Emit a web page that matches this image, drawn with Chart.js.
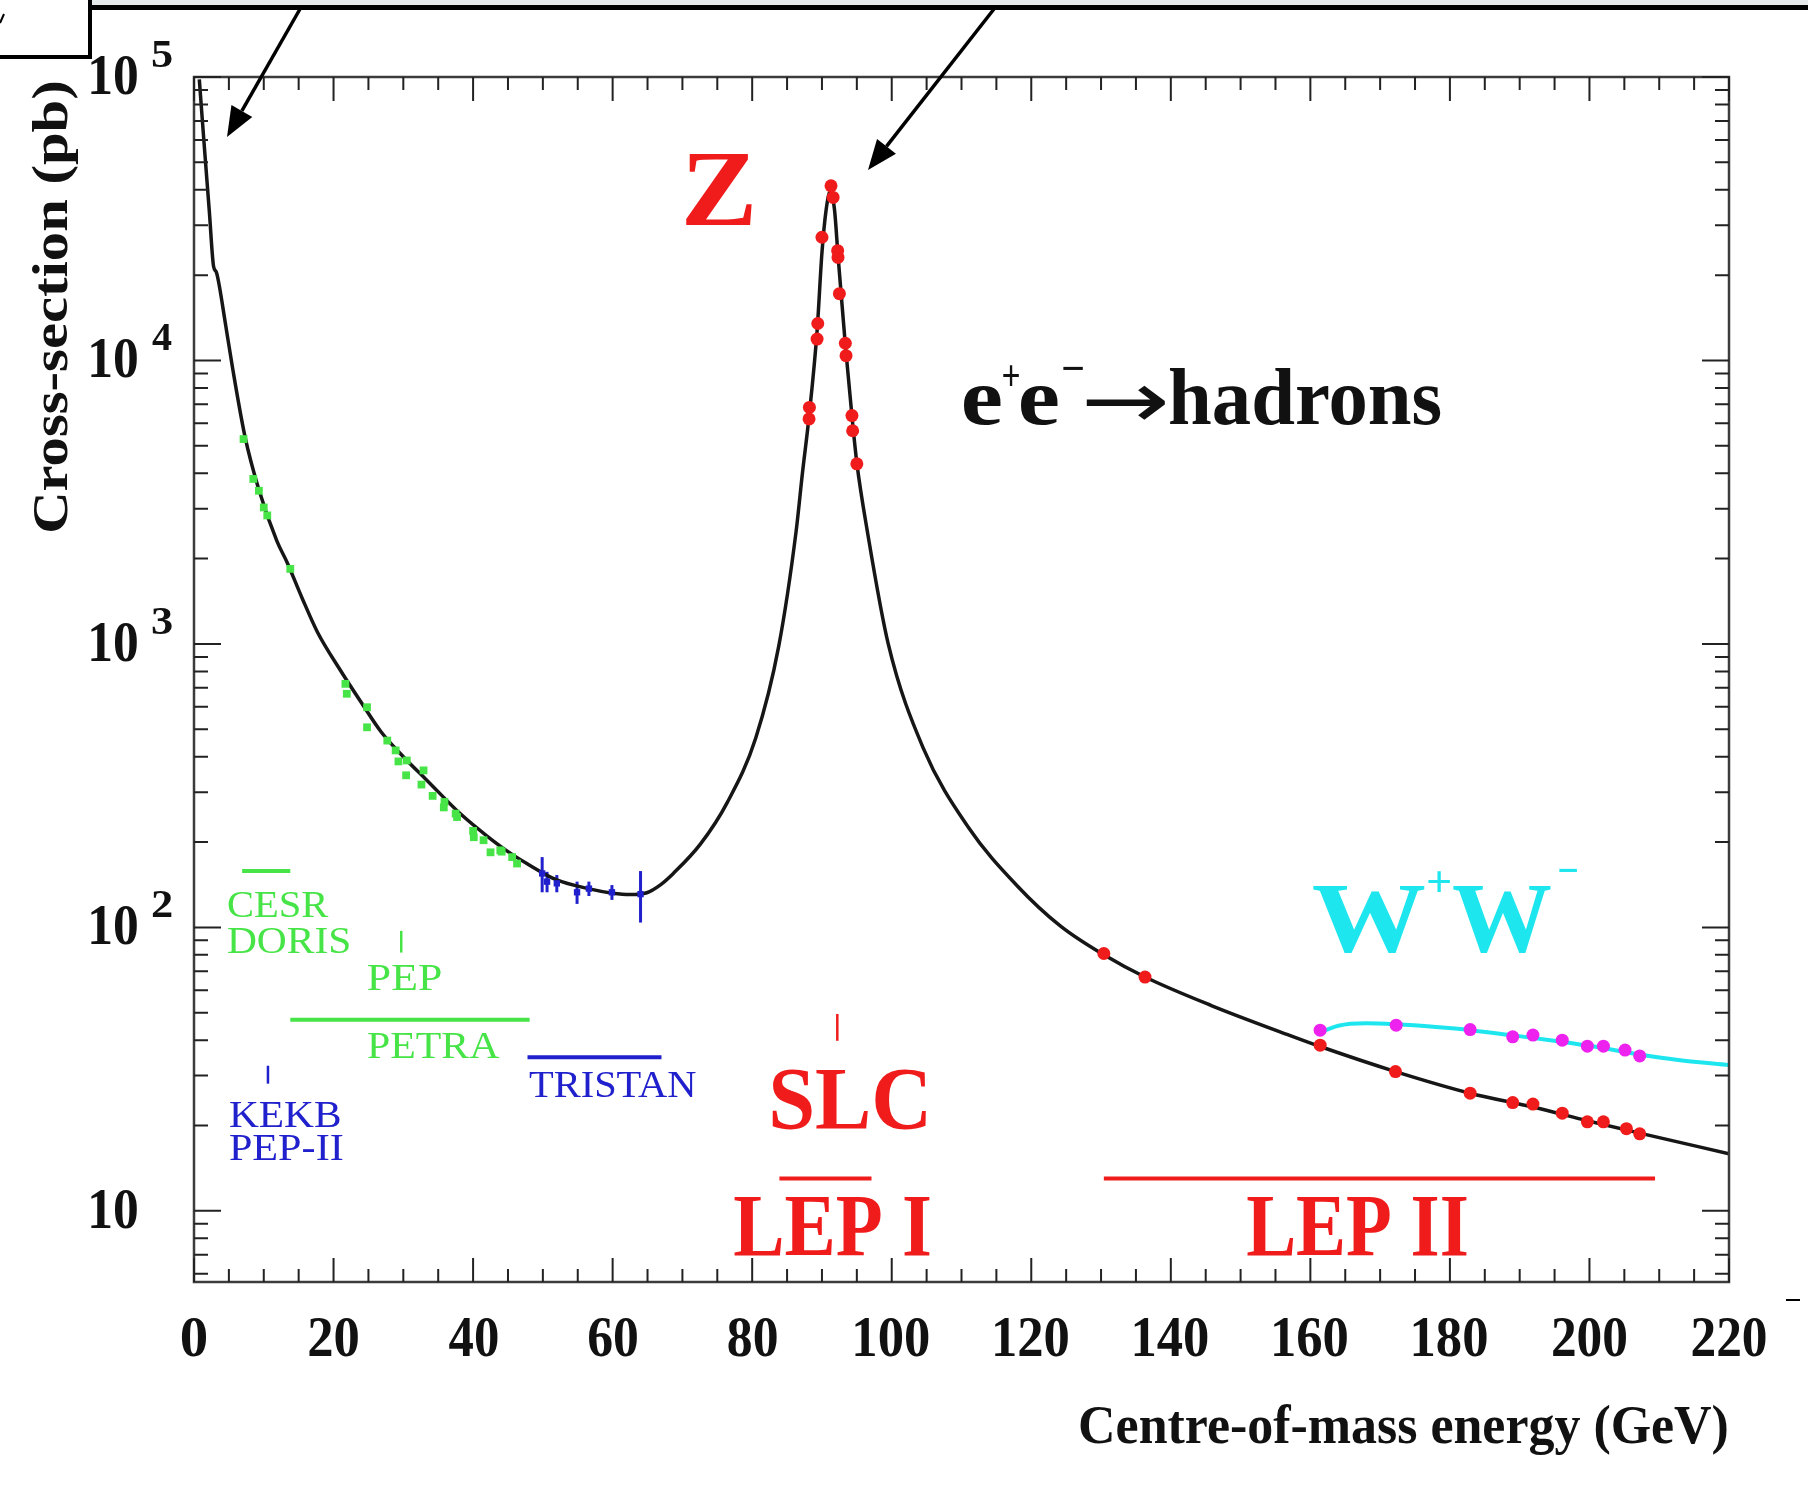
<!DOCTYPE html>
<html>
<head>
<meta charset="utf-8">
<script src="https://cdn.jsdelivr.net/npm/chart.js@4.4.1/dist/chart.umd.min.js"></script>
<style>
  html, body { margin: 0; padding: 0; background: #fff; }
  canvas { display: block; }
</style>
</head>
<body>
<canvas id="xsecChart" width="1808" height="1507"></canvas>
<script>
// --- Data (energy in GeV, cross-section in pb) ---
const theoryEnergy = [0.76, 1.5, 2.2, 2.8, 3.2, 3.6, 4.5, 5.5, 7.3, 9.3, 11.9, 13.3, 15.5, 17.7, 21.0, 24.0, 26.8, 30.0, 33.4, 38.3, 42.0, 45.0, 47.7, 52.0, 56.5, 60.0, 62.5, 64.9, 66.8, 68.7, 72.6, 76.4, 80.5, 83.8, 86.3, 87.2, 88.2, 89.3, 90.0, 90.6, 91.2, 91.8, 92.3, 92.9, 93.4, 94.4, 95.0, 96.5, 99.5, 104.5, 111, 118, 124.2, 130.4, 136.3, 145.8, 157.6, 161.4, 172.2, 182.9, 192, 199.7, 207.2, 220];
const theoryXsec = [98000, 56000, 33500, 21500, 20500, 18500, 13500, 9500, 5400, 3500, 2300, 1950, 1450, 1100, 806, 620, 490, 400, 330, 250, 210, 185, 168, 147, 137, 132, 130.5, 132.5, 141, 155, 197, 275, 465, 980, 2500, 4000, 6500, 12700, 24000, 34000, 39500, 34000, 23500, 15500, 11000, 6000, 4350, 2500, 1000, 430, 225, 140, 101, 80, 66.8, 53, 41.1, 38.0, 31, 26, 23.2, 20.8, 18.8, 15.9];

const wwCurveEnergy = [161.3, 164, 168, 172.3, 178, 182.9, 189, 194.4, 200, 207.2, 213, 220];
const wwCurveXsec = [42.5, 45, 45.9, 45.5, 44.5, 43.4, 41.6, 40.0, 38.2, 35.6, 34, 32.7];

const lowEnergy = [7.1, 8.5, 9.3, 10.0, 10.5, 13.8, 21.7, 21.9, 24.8, 24.8, 27.7, 28.9, 29.3, 30.4, 30.5, 32.6, 32.9, 34.2, 35.8, 35.9, 37.5, 37.7, 40.0, 40.1, 41.5, 42.5, 43.9, 44.1, 45.6, 46.3];
const lowXsec = [5280, 3820, 3470, 3030, 2840, 1840, 723, 667, 598, 508, 456, 421, 385, 344, 388, 319, 358, 291, 265, 277, 252, 245, 219, 208, 203, 184, 187, 185, 177, 168];

const tristanEnergy = [49.9, 50.6, 52.0, 54.9, 56.6, 59.9, 64.0];
const tristanXsec = [155, 145, 143, 133, 137, 133, 131];
const tristanErr = [22, 12, 10, 12, 8, 8, 27];

const lep1Energy = [88.2, 88.15, 89.3, 89.4, 90.0, 91.3, 91.6, 92.25, 92.3, 92.5, 93.35, 93.45, 94.3, 94.4, 95.0];
const lep1Xsec = [6830, 6220, 11900, 13500, 27200, 41300, 37600, 24400, 23100, 17200, 11500, 10400, 6390, 5650, 4320];

const lep2Energy = [130.4, 136.3, 161.4, 172.2, 182.9, 189.0, 191.9, 196.1, 199.7, 202.0, 205.3, 207.2];
const lep2Xsec = [80.9, 66.8, 38.4, 31.0, 26.0, 24.1, 23.8, 22.1, 20.6, 20.6, 19.5, 18.7];

const wwEnergy = [161.4, 172.3, 182.9, 189.0, 191.9, 196.1, 199.7, 202.0, 205.1, 207.2];
const wwXsec = [43.4, 45.2, 43.6, 41.1, 41.7, 40.0, 38.1, 38.1, 36.9, 35.2];

// machine energy ranges (drawn as bars under the curve)
const machineNames = ['CESR', 'PETRA', 'TRISTAN', 'LEP I', 'LEP II'];
const machineFrom = [6.9, 13.8, 47.8, 83.9, 130.4];
const machineTo = [13.8, 48.1, 67.0, 97.1, 209.4];
const machineLevel = [158, 47.2, 34.8, 13.0, 13.0];
// single-energy machines (short vertical marks)
const pointMachineNames = ['PEP', 'KEKB', 'SLC'];
const pointMachineEnergy = [29.7, 10.6, 92.2];
const pointMachineLow = [81.5, 28.1, 39.8];
const pointMachineHigh = [97.2, 32.5, 49.5];

// axis ticks
const xMajorTicks = [0, 20, 40, 60, 80, 100, 120, 140, 160, 180, 200, 220];
const xTickLabels = ['0', '20', '40', '60', '80', '100', '120', '140', '160', '180', '200', '220'];
const xMinorStep = 5;
const yMajorTicks = [10, 100, 1000, 10000, 100000];
const yTickBase = ['10', '10', '10', '10', '10'];
const yTickExp = ['', '2', '3', '4', '5'];

const RED = '#f01c1c';
const GREEN = '#46e446';
const BLUE = '#2020cc';
const CYAN = '#1ee6ee';
const MAGENTA = '#ee22ee';
const SERIF = '"Liberation Serif", "Times New Roman", serif';

function pts(xs, ys) { return xs.map((v, i) => ({ x: v, y: ys[i] })); }

// draws text so that its ink starts at `left` (or is centred / right-aligned) and is `inkW` wide
function drawInk(ctx, str, x, y, font, color, align, inkW) {
    ctx.save();
    ctx.font = font;
    ctx.fillStyle = color;
    ctx.textBaseline = 'alphabetic';
    ctx.textAlign = 'left';
    const m = ctx.measureText(str);
    const ink = m.actualBoundingBoxLeft + m.actualBoundingBoxRight;
    const sx = inkW ? inkW / ink : 1;
    const w = ink * sx;
    let left = x;
    if (align === 'center') left = x - w / 2;
    else if (align === 'right') left = x - w;
    ctx.translate(left, y);
    ctx.scale(sx, 1);
    ctx.fillText(str, m.actualBoundingBoxLeft, 0);
    ctx.restore();
}

// --- Datasets ---
const datasets = [];
datasets.push({ data: pts(lep1Energy, lep1Xsec), showLine: false, pointRadius: 6.5, pointBackgroundColor: RED, pointBorderWidth: 0, order: 0 });
datasets.push({ data: pts(lep2Energy, lep2Xsec), showLine: false, pointRadius: 6.5, pointBackgroundColor: RED, pointBorderWidth: 0, order: 0 });
datasets.push({ data: pts(wwEnergy, wwXsec), showLine: false, pointRadius: 6.5, pointBackgroundColor: MAGENTA, pointBorderWidth: 0, order: 0 });
datasets.push({ data: pts(lowEnergy, lowXsec), showLine: false, pointRadius: 5.5, pointStyle: 'rect', pointBackgroundColor: GREEN, pointBorderWidth: 0, order: 0 });
datasets.push({ data: pts(tristanEnergy, tristanXsec), showLine: false, pointRadius: 4.5, pointStyle: 'rect', pointBackgroundColor: BLUE, pointBorderWidth: 0, order: 0 });
datasets.push({ data: pts(theoryEnergy, theoryXsec), borderColor: '#161616', borderWidth: 3.5, pointRadius: 0, cubicInterpolationMode: 'monotone', order: 3 });
datasets.push({ data: pts(wwCurveEnergy, wwCurveXsec), borderColor: CYAN, borderWidth: 4, pointRadius: 0, cubicInterpolationMode: 'monotone', order: 3 });

const machineColors = [GREEN, GREEN, BLUE, RED, RED];
machineNames.forEach((name, i) => {
    datasets.push({ label: name, data: [{ x: machineFrom[i], y: machineLevel[i] }, { x: machineTo[i], y: machineLevel[i] }],
        borderColor: machineColors[i], borderWidth: 4, pointRadius: 0, order: 2 });
});
const pointMachineColors = [GREEN, BLUE, RED];
pointMachineNames.forEach((name, i) => {
    datasets.push({ label: name, data: [{ x: pointMachineEnergy[i], y: pointMachineLow[i] }, { x: pointMachineEnergy[i], y: pointMachineHigh[i] }],
        borderColor: pointMachineColors[i], borderWidth: 2.5, pointRadius: 0, order: 2 });
});

// --- Plugins ---
const errorBars = {
    id: 'errorBars',
    beforeDatasetsDraw(chart) {
        const { ctx, scales: { x, y } } = chart;
        ctx.save();
        ctx.strokeStyle = BLUE;
        ctx.lineWidth = 3;
        tristanEnergy.forEach((e, i) => {
            const px = x.getPixelForValue(e);
            ctx.beginPath();
            ctx.moveTo(px, y.getPixelForValue(tristanXsec[i] - tristanErr[i]));
            ctx.lineTo(px, y.getPixelForValue(tristanXsec[i] + tristanErr[i]));
            ctx.stroke();
        });
        ctx.restore();
    }
};

const frameAndTicks = {
    id: 'frameAndTicks',
    afterDatasetsDraw(chart) {
        const { ctx, chartArea: a, scales: { x, y } } = chart;
        ctx.save();
        ctx.strokeStyle = '#3c3c3c';
        ctx.lineWidth = 2.5;
        ctx.strokeRect(a.left, a.top, a.right - a.left, a.bottom - a.top);
        ctx.lineWidth = 2;
        ctx.strokeStyle = '#222';
        ctx.beginPath();
        for (let v = 0; v <= 220; v += xMinorStep) {
            const px = x.getPixelForValue(v);
            const len = xMajorTicks.includes(v) ? 24 : 13;
            ctx.moveTo(px, a.bottom); ctx.lineTo(px, a.bottom - len);
            ctx.moveTo(px, a.top); ctx.lineTo(px, a.top + len);
        }
        for (let d = 1; d <= 10000; d *= 10) {
            for (let m = 1; m <= 10; m++) {
                const v = m * d;
                if (v < y.min || v > y.max) continue;
                const py = y.getPixelForValue(v);
                const len = yMajorTicks.includes(v) ? 27 : 14;
                ctx.moveTo(a.left, py); ctx.lineTo(a.left + len, py);
                ctx.moveTo(a.right, py); ctx.lineTo(a.right - len, py);
            }
        }
        ctx.stroke();
        ctx.restore();

        // tick labels
        xMajorTicks.forEach((v, i) => {
            drawInk(ctx, xTickLabels[i], x.getPixelForValue(v), 1356, 'bold 58px ' + SERIF, '#111', 'center', 24.5 * xTickLabels[i].length);
        });
        yMajorTicks.forEach((v, i) => {
            const py = y.getPixelForValue(v);
            drawInk(ctx, yTickBase[i], 137, py + 17, 'bold 56px ' + SERIF, '#111', 'right', 46);
            if (yTickExp[i]) drawInk(ctx, yTickExp[i], 152, py - 10, 'bold 40px ' + SERIF, '#111', 'left', 20);
        });
    }
};

const annotations = {
    id: 'annotations',
    afterDraw(chart) {
        const ctx = chart.ctx;
        // axis titles
        ctx.save();
        ctx.translate(67, 307);
        ctx.rotate(-Math.PI / 2);
        drawInk(ctx, 'Cross-section (pb)', 0, 0, 'bold 51px ' + SERIF, '#111', 'center', 449);
        ctx.restore();
        drawInk(ctx, 'Centre-of-mass energy (GeV)', 1080, 1443, 'bold 54px ' + SERIF, '#111', 'left', 647);

        // big labels
        drawInk(ctx, 'Z', 686, 225, 'bold 108px ' + SERIF, RED, 'left', 66);
        drawInk(ctx, 'e', 963, 424, 'bold 80px ' + SERIF, '#111', 'left', 38);
        drawInk(ctx, '+', 1003, 390, 'bold 44px ' + SERIF, '#111', 'left', 16);
        drawInk(ctx, 'e', 1020, 424, 'bold 80px ' + SERIF, '#111', 'left', 38);
        drawInk(ctx, '\u2212', 1063, 383, 'bold 44px ' + SERIF, '#111', 'left', 20);
        drawInk(ctx, '\u2192', 1086, 428, '80px "DejaVu Sans"', '#111', 'left', 80);
        drawInk(ctx, 'hadrons', 1170, 424, 'bold 80px ' + SERIF, '#111', 'left', 271);

        drawInk(ctx, 'W', 1313, 951, 'bold 100px ' + SERIF, CYAN, 'left', 112);
        drawInk(ctx, '+', 1428, 896, 'bold 44px ' + SERIF, CYAN, 'left', 22);
        drawInk(ctx, 'W', 1453, 951, 'bold 100px ' + SERIF, CYAN, 'left', 98);
        drawInk(ctx, '\u2212', 1559, 885, 'bold 44px ' + SERIF, CYAN, 'left', 18);

        drawInk(ctx, 'SLC', 772, 1128, 'bold 88px ' + SERIF, RED, 'left', 154);
        drawInk(ctx, 'LEP I', 734, 1255, 'bold 88px ' + SERIF, RED, 'left', 196);
        drawInk(ctx, 'LEP II', 1247, 1255, 'bold 88px ' + SERIF, RED, 'left', 220);

        drawInk(ctx, 'CESR', 228, 917, '38px ' + SERIF, GREEN, 'left', 101);
        drawInk(ctx, 'DORIS', 228, 953, '38px ' + SERIF, GREEN, 'left', 121);
        drawInk(ctx, 'PEP', 368, 990, '38px ' + SERIF, GREEN, 'left', 73);
        drawInk(ctx, 'PETRA', 368, 1058, '38px ' + SERIF, GREEN, 'left', 132);
        drawInk(ctx, 'TRISTAN', 529, 1097, '38px ' + SERIF, BLUE, 'left', 167);
        drawInk(ctx, 'KEKB', 230, 1127, '38px ' + SERIF, BLUE, 'left', 110);
        drawInk(ctx, 'PEP-II', 230, 1160, '38px ' + SERIF, BLUE, 'left', 113);

        // slide decorations: header bar, corner box and the two arrows
        ctx.save();
        ctx.fillStyle = '#e6eaea';
        ctx.fillRect(90, 0, 1718, 5);
        ctx.fillStyle = '#000';
        ctx.fillRect(88, 5, 1720, 5);
        ctx.lineWidth = 4;
        ctx.strokeStyle = '#000';
        ctx.strokeRect(-4, -4, 94, 61);
        ctx.lineWidth = 2;
        ctx.beginPath();
        ctx.moveTo(0, 23); ctx.lineTo(4, 14);
        ctx.moveTo(1786, 1300); ctx.lineTo(1800, 1300);
        ctx.stroke();
        drawArrow(ctx, 300, 9, 227, 137);
        drawArrow(ctx, 994, 9, 868, 170);
        ctx.restore();
    }
};

function drawArrow(ctx, x1, y1, x2, y2) {
    const ang = Math.atan2(y2 - y1, x2 - x1);
    const headLen = 30, headW = 12;
    const bx = x2 - headLen * Math.cos(ang), by = y2 - headLen * Math.sin(ang);
    ctx.save();
    ctx.strokeStyle = '#000';
    ctx.fillStyle = '#000';
    ctx.lineWidth = 3.5;
    ctx.beginPath();
    ctx.moveTo(x1, y1);
    ctx.lineTo(bx, by);
    ctx.stroke();
    ctx.beginPath();
    ctx.moveTo(x2, y2);
    ctx.lineTo(bx + headW * Math.sin(ang), by - headW * Math.cos(ang));
    ctx.lineTo(bx - headW * Math.sin(ang), by + headW * Math.cos(ang));
    ctx.closePath();
    ctx.fill();
    ctx.restore();
}

// --- Chart ---
new Chart(document.getElementById('xsecChart').getContext('2d'), {
    type: 'line',
    data: { datasets: datasets },
    options: {
        responsive: false,
        devicePixelRatio: 1,
        animation: false,
        layout: { padding: { top: 77, right: 79, bottom: 0, left: 0 } },
        plugins: { legend: { display: false }, tooltip: { enabled: false } },
        scales: {
            x: {
                type: 'linear', min: 0, max: 220, bounds: 'data',
                ticks: { display: false }, grid: { display: false }, border: { display: false },
                afterFit: (s) => { s.height = 1507 - 1282; }
            },
            y: {
                type: 'logarithmic', min: 5.61, max: 100000, bounds: 'data',
                ticks: { display: false }, grid: { display: false }, border: { display: false },
                afterFit: (s) => { s.width = 194; }
            }
        }
    },
    plugins: [errorBars, frameAndTicks, annotations]
});
</script>
</body>
</html>
